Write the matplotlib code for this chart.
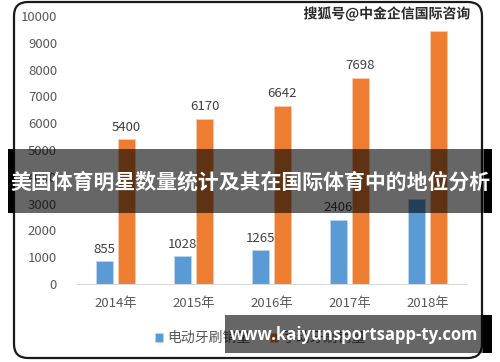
import matplotlib
matplotlib.use('Agg')
import matplotlib.pyplot as plt
import matplotlib.patheffects as pe
from matplotlib.patches import FancyBboxPatch, Rectangle
from matplotlib.transforms import IdentityTransform
import numpy as np

plt.rcParams['font.family'] = ['Noto Sans CJK SC', 'DejaVu Sans']

years = ['2014年', '2015年', '2016年', '2017年', '2018年']
electric = [855, 1028, 1265, 2406, 3170]
manual = [5400, 6170, 6642, 7698, 9440]
electric_labels = ['855', '1028', '1265', '2406', '']
manual_labels = ['5400', '6170', '6642', '7698', '']
legend_names = ['电动牙刷销量', '手动牙刷销量']

W, H = 500, 362
fig = plt.figure(figsize=(W / 100, H / 100), dpi=100)

def px(x, y):
    # top-left pixel coords -> display coords
    return x, H - y

# rounded chart frame
frame = FancyBboxPatch(px(14, 358), 468, 356, boxstyle='round,pad=0,rounding_size=14',
                       transform=IdentityTransform(), fill=False, ec='#1a1a1a', lw=1.6)
fig.patches.append(frame)

ax = fig.add_axes([76.5 / W, 78 / H, 390 / W, 268 / H])
x = np.arange(len(years))
bw = 0.218
off = 0.141
b1 = ax.bar(x - off, electric, bw, color='#5B9BD5', edgecolor='#BDD7EE', lw=0.6, label=legend_names[0])
b2 = ax.bar(x + off, manual, bw, color='#ED7D31', edgecolor='#F8CBAD', lw=0.6, label=legend_names[1])
ax.bar_label(b1, labels=electric_labels, padding=4, color='#404040', fontsize=9.5)
ax.bar_label(b2, labels=manual_labels, padding=4, color='#404040', fontsize=9.5)

ax.set_xlim(-0.5, 4.5)
ax.set_ylim(0, 10000)
ax.set_yticks(range(0, 10001, 1000))
ax.set_xticks(x)
ax.set_xticklabels(years)
ax.tick_params(axis='both', length=0, colors='#595959', labelsize=9.5)
ax.tick_params(axis='y', pad=14)
ax.tick_params(axis='x', pad=9)
for s in ['top', 'right', 'left']:
    ax.spines[s].set_visible(False)
ax.spines['bottom'].set_color('#D9D9D9')
ax.set_facecolor('none')

fig.legend(loc='center', bbox_to_anchor=(0.52, 1 - 338 / H), ncol=2, frameon=False,
           fontsize=10, labelcolor='#595959', handlelength=0.6, handleheight=0.6,
           handletextpad=0.3, columnspacing=1.4)

# watermark
fig.text(470 / W, 1 - 14 / H, '搜狐号@中金企信国际咨询', ha='right', va='center',
         fontsize=10, fontweight='bold', color='#2b2b2b',
         path_effects=[pe.withStroke(linewidth=2, foreground='white')])

# title banner
fig.patches.append(Rectangle(px(8, 213), 484, 64, transform=IdentityTransform(),
                             fc='black', alpha=0.6, ec='none', zorder=10))
fig.patches.append(Rectangle(px(8, 213), 6, 64, transform=IdentityTransform(),
                             fc='black', ec='none', zorder=11))
fig.patches.append(Rectangle(px(484, 213), 8, 64, transform=IdentityTransform(),
                             fc='black', ec='none', zorder=11))
fig.text(250 / W, 1 - 182 / H, '美国体育明星数量统计及其在国际体育中的地位分析', ha='center', va='center',
         fontsize=15, fontweight='bold', color='white', zorder=12)

# url box
fig.patches.append(Rectangle(px(225, 353), 267, 38, transform=IdentityTransform(),
                             fc='black', alpha=0.6, ec='none', zorder=10))
fig.patches.append(Rectangle(px(483, 353), 9, 38, transform=IdentityTransform(),
                             fc='black', ec='none', zorder=11))
fig.text(354 / W, 1 - 335 / H, 'www.kaiyunsportsapp-ty.com', ha='center', va='center',
         fontsize=12, fontweight='bold', color='white', zorder=12, family='Open Sans')

fig.savefig('out.png', dpi=100)
